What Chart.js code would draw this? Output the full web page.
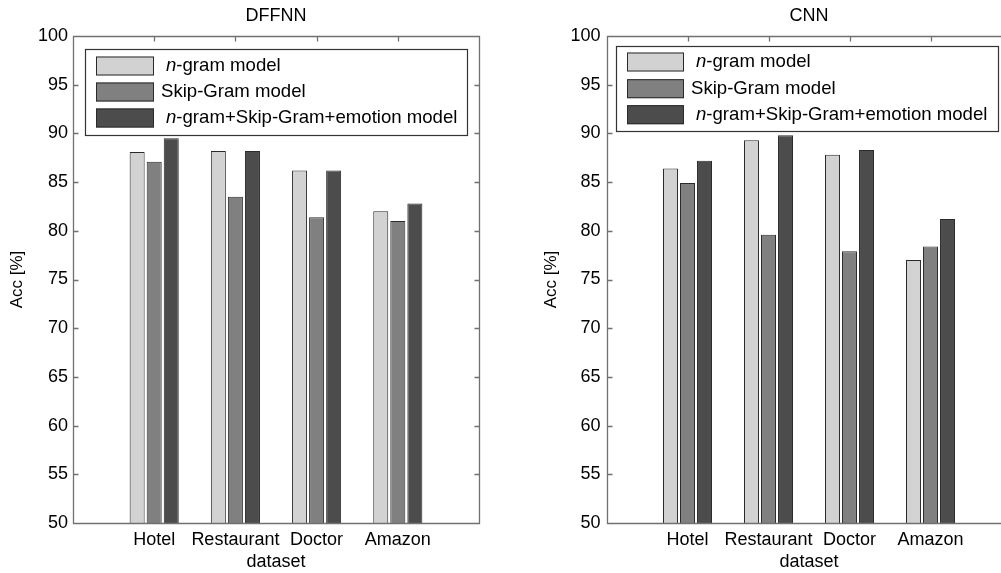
<!DOCTYPE html>
<html><head><meta charset="utf-8">
<script src="https://cdn.jsdelivr.net/npm/chart.js@4.4.0/dist/chart.umd.min.js"></script>
<style>
html,body{margin:0;padding:0;background:#fff;overflow:hidden;width:1001px;height:573px;position:relative}
.wrap{position:absolute;top:0;height:573px;overflow:hidden}
#w1{left:0;width:500px}
#w2{left:500px;width:501px}
canvas{position:absolute;top:0;left:0}
</style></head><body>
<div class="wrap" id="w1"><canvas id="c1" width="500" height="573"></canvas></div>
<div class="wrap" id="w2"><canvas id="c2" width="530" height="573"></canvas></div>
<script>
// ---- data ----
const categories = ['Hotel', 'Restaurant', 'Doctor', 'Amazon'];
const seriesNames = ['n-gram model', 'Skip-Gram model', 'n-gram+Skip-Gram+emotion model'];
const dffnnNgram    = [88.1, 88.2, 86.2, 82.0];
const dffnnSkipGram = [87.1, 83.5, 81.4, 81.0];
const dffnnCombined = [89.5, 88.2, 86.2, 82.8];
const cnnNgram      = [86.4, 89.3, 87.8, 77.0];
const cnnSkipGram   = [84.9, 79.6, 77.9, 78.4];
const cnnCombined   = [87.2, 89.8, 88.3, 81.2];
const yMin = 50, yMax = 100, yStep = 5;

// ---- styles ----
const FONT = '"Liberation Sans", Arial, sans-serif';
const fills = ['#d2d2d2', '#808080', '#4c4c4c'];
const barBorder = '#2a2a2a';
const frameColor = '#707070';
const textColor = '#000';

const pad = v => [null, ...v, null];
const padLabels = ['', ...categories, ''];

const framePlugin = {
  id: 'matlabFrame',
  afterDatasetsDraw(chart, args, o) {
    const ctx = chart.ctx, a = chart.chartArea;
    const ys = chart.scales.y, xs = chart.scales.x;
    const L0 = Math.round(a.left) + 0.5, R0 = Math.round(a.right) + 0.5;
    const T0 = Math.round(a.top) + 0.5, B0 = Math.round(a.bottom) + 0.5;
    ctx.save();
    ctx.strokeStyle = frameColor;
    ctx.lineWidth = 1.3;
    ctx.beginPath();
    // tick marks inward
    for (let v = yMin; v <= yMax; v += yStep) {
      const y = Math.round(ys.getPixelForValue(v)) + 0.5;
      ctx.moveTo(L0, y); ctx.lineTo(L0 + 5, y);
      ctx.moveTo(R0, y); ctx.lineTo(R0 - 5, y);
    }
    for (let i = 1; i <= categories.length; i++) {
      const x = Math.round(xs.getPixelForValue(i)) + 0.5;
      ctx.moveTo(x, T0); ctx.lineTo(x, T0 + 5);
    }
    // box
    ctx.moveTo(L0, T0); ctx.lineTo(R0, T0); ctx.lineTo(R0, B0); ctx.lineTo(L0, B0); ctx.closePath();
    ctx.stroke();
    // title
    ctx.fillStyle = textColor;
    ctx.font = '18px ' + FONT;
    ctx.textAlign = 'center';
    ctx.textBaseline = 'middle';
    ctx.fillText(o.title, (a.left + a.right) / 2, o.titleY);
    // legend
    const L = o.legend;
    ctx.fillStyle = '#fff';
    ctx.fillRect(L.x, L.y, L.w, L.h);
    ctx.strokeStyle = '#333';
    ctx.lineWidth = 1.2;
    ctx.strokeRect(L.x + 0.5, L.y + 0.5, L.w, L.h);
    chart.data.datasets.forEach((ds, i) => {
      const cy = L.rows[i];
      ctx.fillStyle = ds.backgroundColor;
      ctx.fillRect(L.swX, cy - L.swH / 2, L.swW, L.swH);
      ctx.strokeStyle = barBorder;
      ctx.lineWidth = 1;
      ctx.strokeRect(L.swX + 0.5, cy - L.swH / 2 + 0.5, L.swW - 1, L.swH - 1);
      ctx.fillStyle = textColor;
      ctx.textAlign = 'left';
      ctx.textBaseline = 'middle';
      const label = ds.label;
      const f = L.fontSize + 'px ' + FONT;
      if (label.startsWith('n-')) {
        let x = L.textX + 5;
        ctx.font = 'italic ' + f;
        ctx.fillText('n', x, cy);
        x += ctx.measureText('n').width;
        ctx.font = f;
        ctx.fillText(label.slice(1), x, cy);
      } else {
        ctx.font = f;
        ctx.fillText(label, L.textX, cy);
      }
    });
    ctx.restore();
  }
};

function makeChart(id, title, series, geo) {
  return new Chart(document.getElementById(id), {
    type: 'bar',
    data: {
      labels: padLabels,
      datasets: series.map((vals, i) => ({
        label: seriesNames[i],
        data: pad(vals),
        backgroundColor: fills[i],
        borderColor: barBorder,
        borderWidth: 1,
        borderSkipped: false,
        categoryPercentage: 0.63,
        barPercentage: 0.88
      }))
    },
    options: {
      responsive: false,
      animation: false,
      devicePixelRatio: 1,
      layout: { padding: { top: 36, right: geo.padRight, left: 0, bottom: 0 } },
      plugins: {
        legend: { display: false },
        title: { display: false },
        tooltip: { enabled: false },
        matlabFrame: { title: title, titleY: 16, legend: geo.legend }
      },
      scales: {
        x: {
          type: 'category',
          offset: false,
          grid: { display: false, drawTicks: false },
          border: { display: false },
          ticks: { autoSkip: false, maxRotation: 0, minRotation: 0, padding: 6, color: textColor, font: { family: FONT, size: 18 } },
          title: { display: true, text: 'dataset', color: textColor, font: { family: FONT, size: 18 }, padding: { top: 0, bottom: 0 } },
          afterFit: s => { s.height = 50; }
        },
        y: {
          min: yMin, max: yMax,
          grid: { display: false, drawTicks: false },
          border: { display: false },
          ticks: { stepSize: yStep, padding: geo.yTickPad, color: textColor, font: { family: FONT, size: 18 } },
          title: { display: true, text: 'Acc [%]', color: textColor, font: { family: FONT, size: 17 }, padding: { top: geo.yTitlePad, bottom: 0 } },
          afterFit: s => { s.width = geo.yAxisWidth; }
        }
      }
    },
    plugins: [framePlugin]
  });
}

makeChart('c1', 'DFFNN', [dffnnNgram, dffnnSkipGram, dffnnCombined], {
  yAxisWidth: 73, padRight: 21, yTickPad: 5, yTitlePad: 7,
  legend: { x: 85, y: 49, w: 382, h: 86, swX: 96, swW: 58, swH: 19, rows: [66, 92, 118], textX: 161, fontSize: 18.6 }
});
makeChart('c2', 'CNN', [cnnNgram, cnnSkipGram, cnnCombined], {
  yAxisWidth: 106.5, padRight: 18.5, yTickPad: 6, yTitlePad: 41,
  legend: { x: 116, y: 46, w: 382, h: 85, swX: 127, swW: 57, swH: 19, rows: [62, 88.7, 114.7], textX: 191, fontSize: 18.6 }
});
</script>
</body></html>
